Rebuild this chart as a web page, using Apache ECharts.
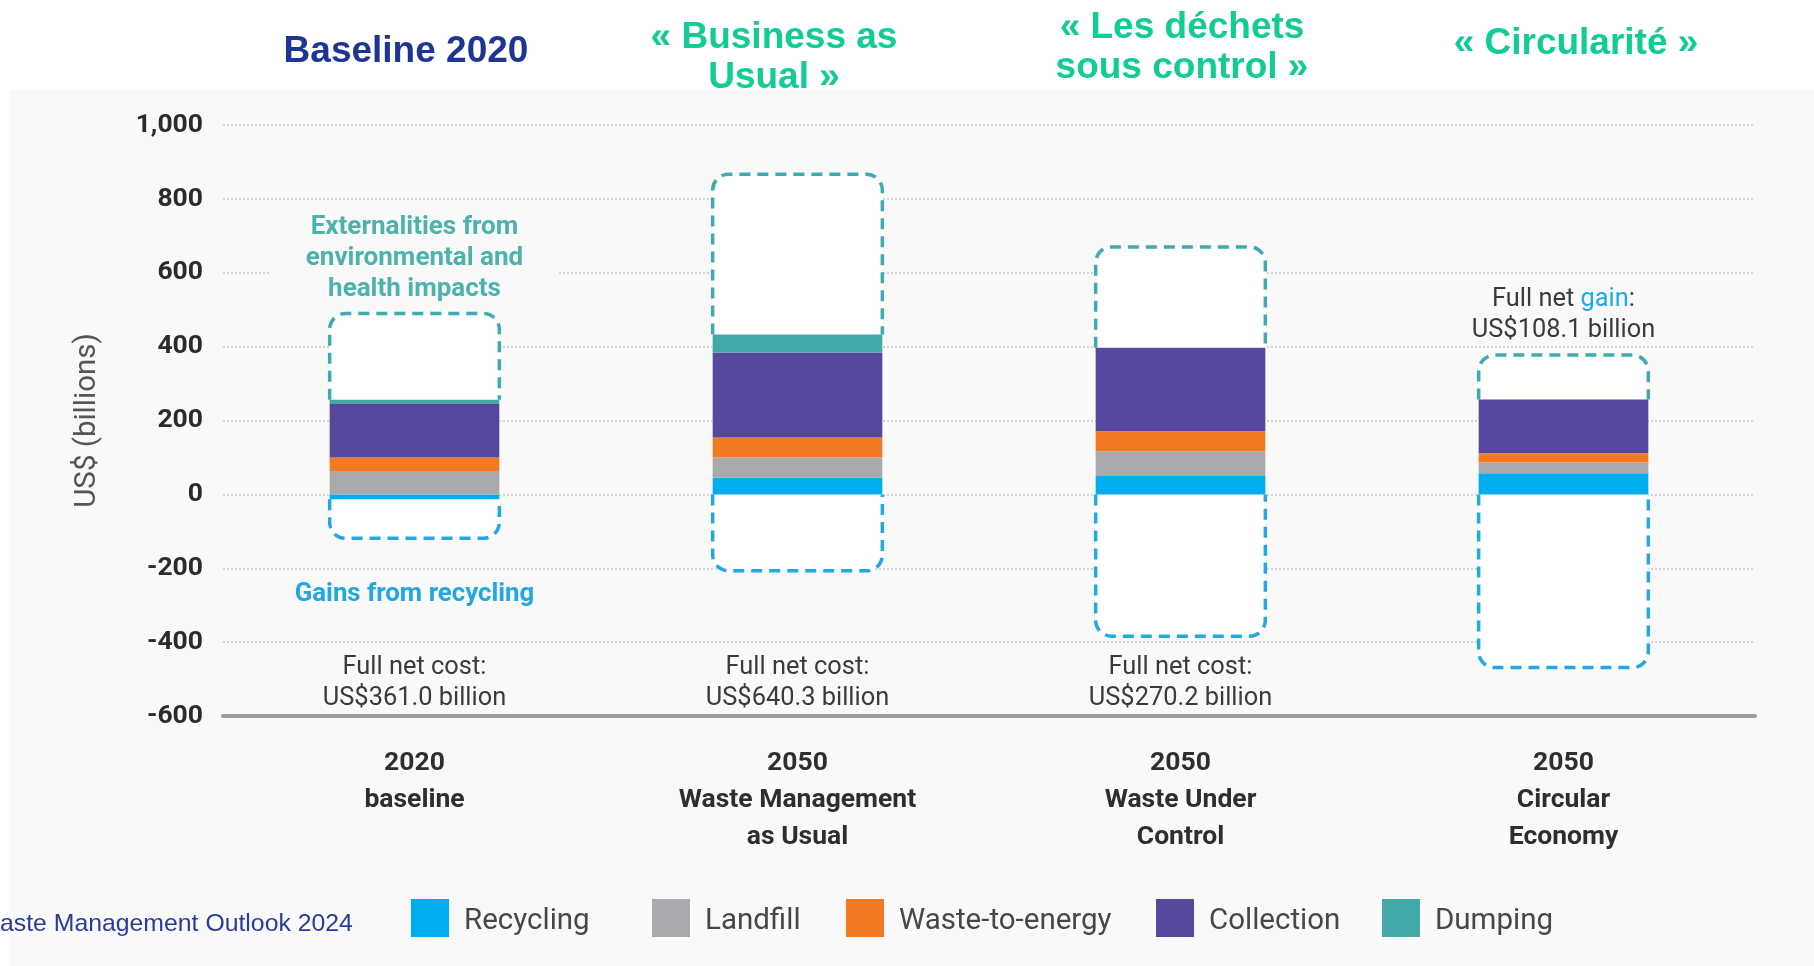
<!DOCTYPE html>
<html>
<head>
<meta charset="utf-8">
<script src="https://cdn.jsdelivr.net/npm/echarts@6/dist/echarts.min.js"></script>
<style>
  html, body { margin: 0; padding: 0; background: #ffffff; }
  #panel { position: absolute; left: 9px; top: 90px; right: 0; bottom: 0; background: #f9f9f9; }
  #chart { position: absolute; left: 0; top: 0; width: 1814px; height: 966px; }
</style>
</head>
<body>
<div id="panel"></div>
<div id="chart"></div>
<script>
// Scenario categories (x axis)
const categories = [
  '2020\nbaseline',
  '2050\nWaste Management\nas Usual',
  '2050\nWaste Under\nControl',
  '2050\nCircular\nEconomy'
];

// Scenario headings above the plot
const scenarioTitles = ['Baseline 2020', '« Business as\nUsual »', '« Les déchets\nsous control »', '« Circularité »'];

// Direct cost components, US$ billions
const recycling     = [-13, 45, 50, 57];
const landfill      = [63, 55, 67, 29];
const wasteToEnergy = [37, 54, 54, 25];
const collection    = [145, 230, 226, 146];
const dumping       = [11, 49, 0, 0];

// Extent of externalities (upper dashed box) and recycling gains (lower dashed box)
const externalityTop      = [490, 867, 670, 377];
const recyclingGainBottom = [-119, -207, -384, -469];

// Full net cost (positive) or gain (negative), US$ billions
const netTotals = [361.0, 640.3, 270.2, -108.1];

// Value axis ticks
const yMin = -600, yMax = 1000, yStep = 200;

const seriesNames = ['Recycling', 'Landfill', 'Waste-to-energy', 'Collection', 'Dumping'];
const seriesValues = [recycling, landfill, wasteToEnergy, collection, dumping];
const seriesColors = ['#00aeef', '#a7a9ac', '#f37a23', '#57479d', '#45a8a8'];

const BAR_RATIO = 0.443;
const FONT = 'Roboto, "Noto Sans", sans-serif';

// top and bottom of each stacked column
const stackTop = categories.map((_, i) => seriesValues.reduce((s, arr) => s + Math.max(arr[i], 0), 0));
const stackBottom = categories.map((_, i) => seriesValues.reduce((s, arr) => s + Math.min(arr[i], 0), 0));

const boxData = categories.map((_, i) => [i, externalityTop[i], recyclingGainBottom[i], stackTop[i], stackBottom[i]]);

function renderBox(params, api) {
  const i = api.value(0);
  const pTop = api.coord([i, api.value(1)]);
  const pBot = api.coord([i, api.value(2)]);
  const pBarTop = api.coord([i, api.value(3)]);
  const pBarBot = api.coord([i, api.value(4)]);
  const band = api.size([1, 0])[0];
  const w = band * BAR_RATIO;
  const x0 = pTop[0] - w / 2, x1 = pTop[0] + w / 2;
  const yt = pTop[1], yb = pBot[1], ybt = pBarTop[1], ybb = pBarBot[1];
  const r = 16;
  const upper = `M${x0} ${ybt} L${x0} ${yt + r} A${r} ${r} 0 0 1 ${x0 + r} ${yt} L${x1 - r} ${yt} A${r} ${r} 0 0 1 ${x1} ${yt + r} L${x1} ${ybt}`;
  const lower = `M${x0} ${ybb} L${x0} ${yb - r} A${r} ${r} 0 0 0 ${x0 + r} ${yb} L${x1 - r} ${yb} A${r} ${r} 0 0 0 ${x1} ${yb - r} L${x1} ${ybb}`;
  const dash = { fill: null, lineWidth: 3.5, lineDash: [11, 7] };
  return {
    type: 'group',
    children: [
      { type: 'rect', shape: { x: x0, y: yt, width: w, height: yb - yt, r: r }, style: { fill: '#ffffff' } },
      { type: 'path', shape: { pathData: upper, x: x0, y: yt, width: w, height: ybt - yt, layout: 'cover' },
        style: Object.assign({ stroke: '#3fabb0' }, dash) },
      { type: 'path', shape: { pathData: lower, x: x0, y: ybb, width: w, height: yb - ybb, layout: 'cover' },
        style: Object.assign({ stroke: '#22a9e4' }, dash) }
    ]
  };
}

const chart = echarts.init(document.getElementById('chart'), null, { renderer: 'canvas' });

const barSeries = seriesNames.map((name, k) => ({
  name: name,
  type: 'bar',
  stack: 'cost',
  barWidth: (BAR_RATIO * 100) + '%',
  z: 3,
  itemStyle: { color: seriesColors[k] },
  emphasis: { disabled: true },
  data: seriesValues[k]
}));

const legendLeft = [411, 652, 846, 1156, 1382];

chart.setOption({
  animation: false,
  grid: { left: 223, right: 59, top: 125, bottom: 250, containLabel: false, outerBoundsMode: 'none' },
  legend: seriesNames.map((name, k) => ({
    data: [name],
    left: legendLeft[k],
    top: 899,
    padding: 0,
    icon: 'rect',
    itemWidth: 38,
    itemHeight: 38,
    selectedMode: false,
    formatter: '{t|{name}}',
    textStyle: {
      fontFamily: FONT, fontSize: 29.5, color: '#474747', padding: [0, 0, 0, 10],
      rich: { t: { fontFamily: FONT, fontSize: 29.5, color: '#474747', padding: [8, 0, 0, 0] } }
    }
  })),
  xAxis: {
    type: 'category',
    data: categories,
    axisLine: { onZero: false, lineStyle: { color: '#9b9b9b', width: 4 } },
    axisTick: { show: false },
    axisLabel: {
      interval: 0,
      margin: 29,
      fontFamily: FONT,
      fontWeight: 'bold',
      fontSize: 26.5,
      lineHeight: 37,
      color: '#2e2e2e'
    }
  },
  yAxis: {
    type: 'value',
    min: yMin,
    max: yMax,
    interval: yStep,
    name: 'US$ (billions)',
    nameLocation: 'middle',
    nameRotate: 90,
    nameGap: 120,
    nameTextStyle: { fontFamily: FONT, fontSize: 29.5, color: '#555555' },
    axisLine: { show: false },
    axisTick: { show: false },
    axisLabel: {
      margin: 20,
      fontFamily: FONT,
      fontWeight: 'bold',
      fontSize: 26.5,
      color: '#2b2b2b',
      formatter: v => v.toLocaleString('en-US')
    },
    splitLine: { lineStyle: { color: '#c9c9c9', width: 1.5, type: [2, 2] } }
  },
  series: barSeries.concat([{
    name: 'box',
    type: 'custom',
    z: 1,
    silent: true,
    renderItem: renderBox,
    encode: { x: 0, y: [1, 2] },
    data: boxData
  }])
});

// annotation texts placed at the category centres
const cx = categories.map((_, i) => chart.convertToPixel({ xAxisIndex: 0 }, i));

const titleX = [406, 774, 1182, 1576];
const titleY = [52, 58, 48, 44];
const titleColors = ['#1f3594', '#12cc96', '#12cc96', '#12cc96'];

const graphics = [];
scenarioTitles.forEach((t, i) => {
  graphics.push({
    type: 'text', x: titleX[i], y: titleY[i],
    style: {
      text: t, align: 'center', verticalAlign: 'middle',
      font: 'bold 37px "Liberation Sans", Arial, sans-serif',
      lineHeight: 40, fill: titleColors[i]
    }
  });
});

graphics.push({
  type: 'text', x: cx[0], y: 258, z: 5,
  style: {
    text: 'Externalities from\nenvironmental and\nhealth impacts',
    align: 'center', verticalAlign: 'middle',
    font: 'bold 26px ' + FONT, lineHeight: 31, fill: '#4db2ad',
    backgroundColor: '#f9f9f9', padding: [0, 36]
  }
});
graphics.push({
  type: 'text', x: cx[0], y: 595, z: 5,
  style: {
    text: 'Gains from recycling', align: 'center', verticalAlign: 'middle',
    font: 'bold 25.8px ' + FONT, fill: '#22a7e0'
  }
});

netTotals.forEach((v, i) => {
  const amount = 'US$' + Math.abs(v).toFixed(1) + ' billion';
  if (v >= 0) {
    graphics.push({
      type: 'text', x: cx[i], y: 683, z: 5,
      style: {
        text: 'Full net cost:\n' + amount, align: 'center', verticalAlign: 'middle',
        font: '25.4px ' + FONT, lineHeight: 31, fill: '#3a3a3a'
      }
    });
  } else {
    graphics.push({
      type: 'text', x: cx[i], y: 315, z: 5,
      style: {
        text: 'Full net {g|gain}:\n' + amount, align: 'center', verticalAlign: 'middle',
        font: '25.4px ' + FONT, lineHeight: 31, fill: '#3a3a3a',
        rich: { g: { fill: '#1eaae7', font: '25.4px ' + FONT, lineHeight: 31 } }
      }
    });
  }
});

graphics.push({
  type: 'text', x: 0, y: 924,
  style: {
    text: 'aste Management Outlook 2024', align: 'left', verticalAlign: 'middle',
    font: '24.8px "Liberation Sans", Arial, sans-serif', fill: '#2a3a9c'
  }
});

chart.setOption({ graphic: graphics });
</script>
</body>
</html>
